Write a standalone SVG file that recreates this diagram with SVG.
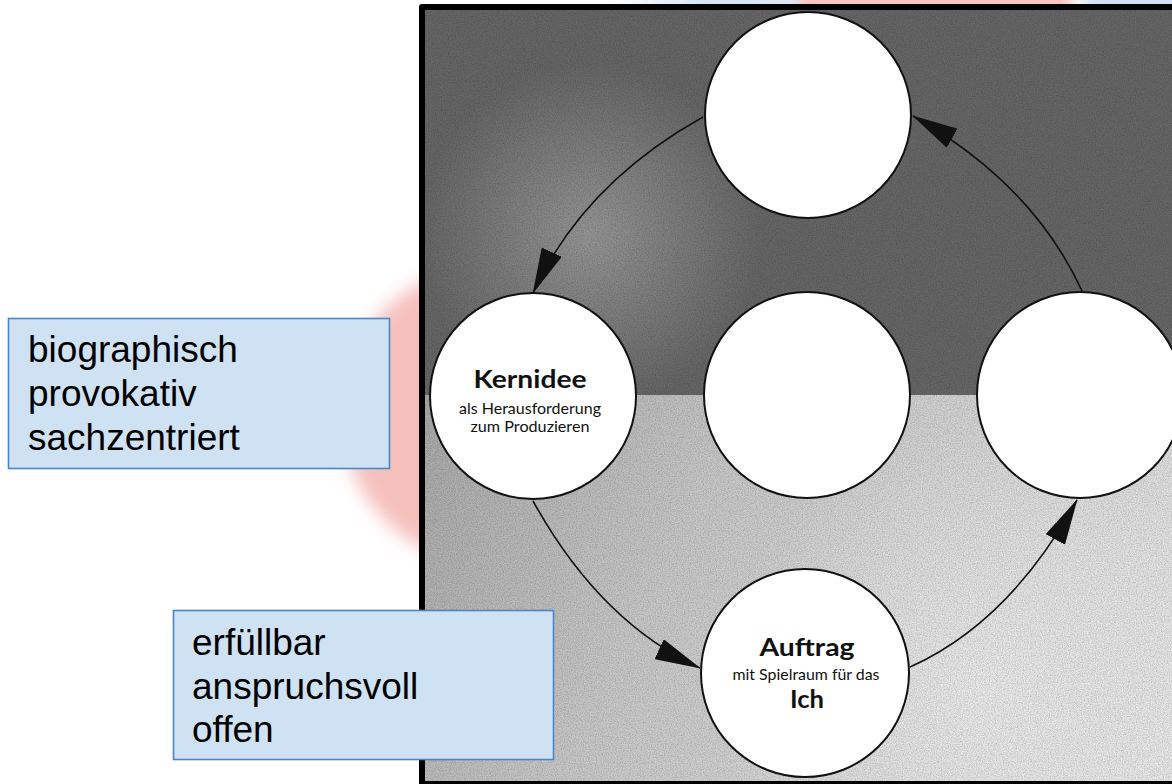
<svg xmlns="http://www.w3.org/2000/svg" width="1172" height="784" viewBox="0 0 1172 784">
  <style>
    .circle { fill: #ffffff; stroke: #111111; stroke-width: 2; }
    .conn { fill: none; stroke: #111111; stroke-width: 1.6; }
    .box { fill: #cfe2f3; stroke: #4a86c8; stroke-width: 1.6; }
    .boxtext { font-family: "Liberation Sans", Arial, sans-serif; font-size: 37px; fill: #000000; }
    .title { font-family: Lato, "Open Sans", sans-serif; font-weight: 700; font-size: 24px; fill: #111111; text-anchor: middle; }
    .sub { font-family: Lato, "Open Sans", sans-serif; font-size: 15px; fill: #111111; text-anchor: middle; }
  </style>
  <defs>
    <filter id="blur8" x="-30%" y="-30%" width="160%" height="160%">
      <feGaussianBlur stdDeviation="9"/>
    </filter>
    <filter id="grain" x="0" y="0" width="100%" height="100%">
      <feTurbulence type="fractalNoise" baseFrequency="0.85" numOctaves="2" seed="4"/>
      <feColorMatrix type="matrix" values="0 0 0 0 0  0 0 0 0 0  0 0 0 0 0  0.35 0 0 0 -0.12"/>
    </filter>
    <linearGradient id="topstrip" x1="0" y1="0" x2="1172" y2="0" gradientUnits="userSpaceOnUse">
      <stop offset="0.52" stop-color="#ffffff"/>
      <stop offset="0.6" stop-color="#d6e6f4"/>
      <stop offset="0.675" stop-color="#dce8f4"/>
      <stop offset="0.69" stop-color="#f7c4c0"/>
      <stop offset="0.905" stop-color="#f7c4c0"/>
      <stop offset="0.92" stop-color="#f3f3f3"/>
      <stop offset="0.935" stop-color="#cfe1f2"/>
      <stop offset="1" stop-color="#cfe1f2"/>
    </linearGradient>
    <linearGradient id="lower" x1="425" y1="395" x2="1172" y2="781" gradientUnits="userSpaceOnUse">
      <stop offset="0" stop-color="#a8a8a8"/>
      <stop offset="0.35" stop-color="#c8c8c8"/>
      <stop offset="1" stop-color="#e8e8e8"/>
    </linearGradient>
    <radialGradient id="upperGlow" cx="590" cy="235" r="170" gradientUnits="userSpaceOnUse">
      <stop offset="0" stop-color="#9a9a9a" stop-opacity="0.9"/>
      <stop offset="1" stop-color="#9a9a9a" stop-opacity="0"/>
    </radialGradient>
    <radialGradient id="lowerGlow" cx="980" cy="690" r="260" gradientUnits="userSpaceOnUse">
      <stop offset="0" stop-color="#ededed" stop-opacity="0.8"/>
      <stop offset="1" stop-color="#ededed" stop-opacity="0"/>
    </radialGradient>
    <marker id="arrow" viewBox="0 0 46 22" markerWidth="46" markerHeight="22" refX="45" refY="11" orient="auto" markerUnits="userSpaceOnUse">
      <path d="M0,0 L46,11 L0,22 Z" fill="#111111"/>
    </marker>
  </defs>

  <!-- backdrop -->
  <rect x="0" y="0" width="1172" height="784" fill="#ffffff"/>
  <rect x="0" y="0" width="1172" height="8" fill="url(#topstrip)"/>
  <circle cx="492" cy="415" r="150" fill="#f5c0bc" filter="url(#blur8)"/>

  <!-- photo -->
  <g id="photo">
    <rect x="419" y="4" width="770" height="790" rx="3" fill="#000000"/>
    <rect x="425" y="10" width="760" height="385" fill="#666666"/>
    <rect x="425" y="10" width="760" height="385" fill="url(#upperGlow)"/>
    <rect x="425" y="395" width="760" height="386" fill="url(#lower)"/>
    <rect x="425" y="395" width="760" height="386" fill="url(#lowerGlow)"/>
    <rect x="425" y="10" width="760" height="771" fill="#000" filter="url(#grain)"/>
  </g>

  <!-- connectors -->
  <g id="connectors">
    <path class="conn" d="M703,117 Q583,184 533,293" marker-end="url(#arrow)"/>
    <path class="conn" d="M533,501 Q600,622 700,668" marker-end="url(#arrow)"/>
    <path class="conn" d="M910,667 Q1010,622 1077,500" marker-end="url(#arrow)"/>
    <path class="conn" d="M1082,291 Q1033,184 913,116" marker-end="url(#arrow)"/>
  </g>

  <!-- nodes -->
  <g id="node-top">
    <circle class="circle" cx="808" cy="115" r="103"/>
  </g>
  <g id="node-center">
    <circle class="circle" cx="807" cy="395" r="103"/>
  </g>
  <g id="node-right">
    <circle class="circle" cx="1080" cy="395" r="103"/>
  </g>
  <g id="node-kernidee">
    <circle class="circle" cx="533" cy="396" r="103"/>
    <text class="title" x="530" y="388" textLength="113" lengthAdjust="spacingAndGlyphs">Kernidee</text>
    <text class="sub" x="530" y="414" textLength="142" lengthAdjust="spacingAndGlyphs">als Herausforderung</text>
    <text class="sub" x="530" y="432" textLength="119" lengthAdjust="spacingAndGlyphs">zum Produzieren</text>
  </g>
  <g id="node-auftrag">
    <circle class="circle" cx="805" cy="673" r="104"/>
    <text class="title" x="807" y="656" textLength="95" lengthAdjust="spacingAndGlyphs">Auftrag</text>
    <text class="sub" x="806" y="680" textLength="147" lengthAdjust="spacingAndGlyphs">mit Spielraum für das</text>
    <text class="title" x="807" y="708" textLength="34" lengthAdjust="spacingAndGlyphs">Ich</text>
  </g>

  <!-- note boxes -->
  <g id="note-kernidee">
    <rect class="box" x="8.5" y="318.5" width="381" height="150"/>
    <text class="boxtext" x="28" y="362">biographisch</text>
    <text class="boxtext" x="28" y="406">provokativ</text>
    <text class="boxtext" x="28" y="450">sachzentriert</text>
  </g>
  <g id="note-auftrag">
    <rect class="box" x="173.5" y="610.5" width="380" height="149"/>
    <text class="boxtext" x="192" y="655">erfüllbar</text>
    <text class="boxtext" x="192" y="699">anspruchsvoll</text>
    <text class="boxtext" x="192" y="742">offen</text>
  </g>
</svg>
